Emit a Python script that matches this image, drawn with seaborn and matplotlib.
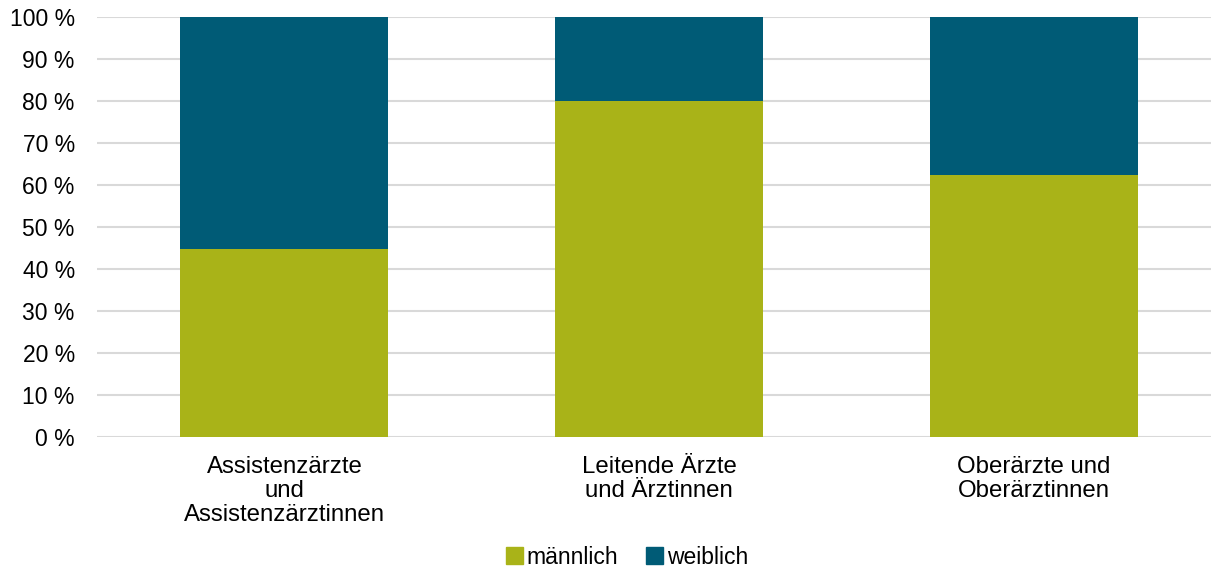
import pandas as pd
import seaborn as sns
import matplotlib.pyplot as plt
from matplotlib.patches import Patch
from matplotlib.ticker import FuncFormatter

# Datos
gruppen = ["Assistenzärzte\nund\nAssistenzärztinnen",
           "Leitende Ärzte\nund Ärztinnen",
           "Oberärzte und\nOberärztinnen"]
maennlich = [44.8, 80.0, 62.4]
weiblich = [55.2, 20.0, 37.6]

farbe_m = "#A9B318"
farbe_w = "#005B76"

df = pd.DataFrame({"Gruppe": gruppen, "männlich": maennlich, "weiblich": weiblich})
df["gesamt"] = df["männlich"] + df["weiblich"]

sns.set_style("white")
plt.rcParams["font.family"] = ["Liberation Sans", "DejaVu Sans"]
plt.rcParams["text.color"] = "black"

fig = plt.figure(figsize=(12.11, 5.68), dpi=100)
W, H = 1211, 568
ax = fig.add_axes([97 / W, (H - 437) / H, (1221.5 - 97) / W, 420 / H])

# gestapelt: erst Gesamt (weiblich oben), dann männlich darüber
sns.barplot(data=df, x="Gruppe", y="gesamt", color=farbe_w, width=0.555,
            saturation=1, linewidth=0, ax=ax, zorder=2)
sns.barplot(data=df, x="Gruppe", y="männlich", color=farbe_m, width=0.555,
            saturation=1, linewidth=0, ax=ax, zorder=3)

ax.set_ylim(0, 100)
ax.set_xlim(-0.5, 2.5)
ax.set_yticks(range(0, 101, 10))
ax.yaxis.set_major_formatter(FuncFormatter(lambda v, p: f"{int(v)} %"))
ax.grid(axis="y", color="#D9D9D9", linewidth=1.5, zorder=0)
ax.set_axisbelow(True)
for s in ax.spines.values():
    s.set_visible(False)
ax.tick_params(axis="both", length=0, labelsize=16.5, colors="black")
ax.tick_params(axis="x", labelsize=17.3, pad=14)
ax.tick_params(axis="y", pad=16)
ax.set_xlabel("")
ax.set_ylabel("")
for lbl in ax.get_xticklabels():
    lbl.set_linespacing(1.1)

handles = [Patch(color=farbe_m, label="männlich"), Patch(color=farbe_w, label="weiblich")]
fig.legend(handles=handles, loc="center", bbox_to_anchor=(627 / W, 1 - 557 / H),
           ncol=2, frameon=False, fontsize=16.5, handlelength=0.75, handleheight=0.75,
           handletextpad=0.15, columnspacing=1.2, labelcolor="black")

fig.savefig("out.png", dpi=100)
